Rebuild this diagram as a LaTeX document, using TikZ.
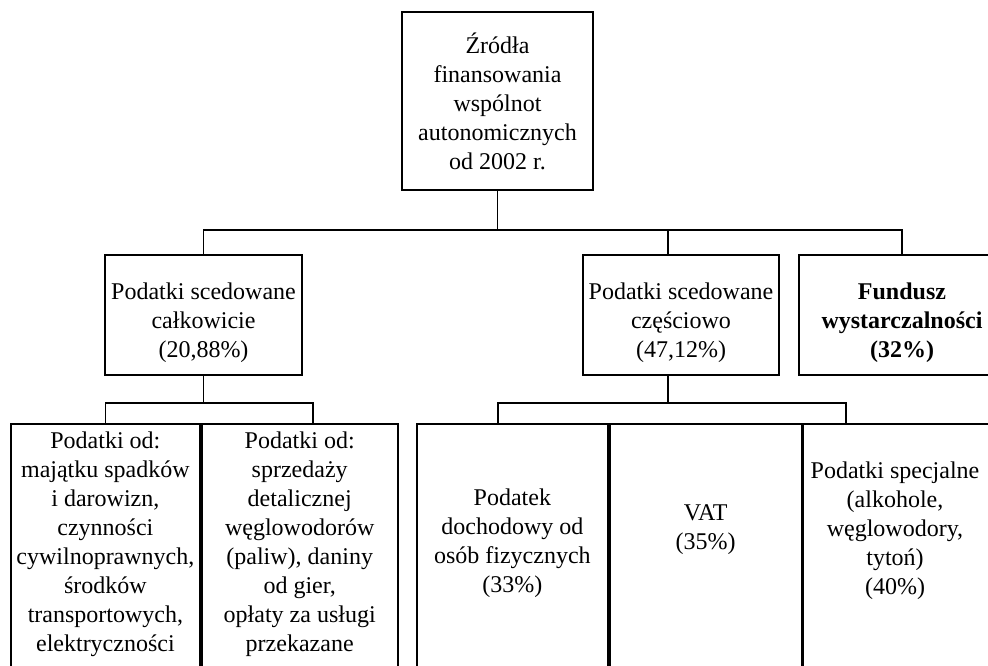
\documentclass[tikz,border=0pt]{standalone}
\usepackage{fontspec}
\setmainfont{Liberation Serif}
\usetikzlibrary{positioning}
\newcommand\topgap{\rule{0pt}{33pt}}
\tikzset{
  box/.style={draw, line width=1.8pt, align=center, inner sep=0pt, minimum height=120pt},
  cell/.style={draw, line width=1.8pt, anchor=north west, minimum height=290pt, inner sep=0pt},
  txt/.style={align=center, inner sep=0pt, anchor=north},
  link/.style={line width=1.8pt},
}
\begin{document}
\begin{tikzpicture}[x=1pt,y=1pt,font=\fontsize{24}{29}\selectfont]
    \useasboundingbox (0,0) rectangle (988,666);
    \clip (0,0) rectangle (988,666);

    % Top box
    \node[box, minimum width=191pt, minimum height=178pt] (src) at (497.5,565)
        {Źródła\\finansowania\\wspólnot\\autonomicznych\\od 2002 r.};

    % Second level
    \node[box, minimum width=197pt] (calk) at (203.5,351)
        {\topgap Podatki scedowane\\całkowicie\\(20,88\%)};
    \node[box, minimum width=196pt] (czesc) at (681,351)
        {\topgap Podatki scedowane\\częściowo\\(47,12\%)};
    \node[box, minimum width=206pt, font=\fontsize{24}{29}\selectfont\bfseries] (fund) at (902,351)
        {\topgap Fundusz\\wystarczalności\\(32\%)};

    % Bottom cells
    \node[cell, minimum width=189pt] (spadki) at (10,243) {};
    \node[cell, minimum width=196pt] (paliwa) at (spadki.north east) {};
    \node[cell, minimum width=191pt] (pit) at (416,243) {};
    \node[cell, minimum width=192pt] (vat) at (pit.north east) {};
    \node[cell, minimum width=201pt] (akcyza) at (vat.north east) {};

    % Texts of the bottom cells
    \node[txt, below=9pt of spadki.north] (spadkitxt)
        {Podatki od:\\majątku spadków\\i darowizn,\\czynności\\cywilnoprawnych,\\środków\\transportowych,\\elektryczności};
    \node[txt, below=9pt of paliwa.north] (paliwatxt)
        {Podatki od:\\sprzedaży\\detalicznej\\węglowodorów\\(paliw), daniny\\od gier,\\opłaty za usługi\\przekazane};
    \node[txt, below=66pt of pit.north] (pittxt)
        {Podatek\\dochodowy od\\osób fizycznych\\(33\%)};
    \node[txt, below=81pt of vat.north] (vattxt)
        {VAT\\(35\%)};
    \node[txt, below=39pt of akcyza.north, xshift=-9pt] (akcyzatxt)
        {Podatki specjalne\\(alkohole,\\węglowodory,\\tytoń)\\(40\%)};

    % Upper connectors
    \coordinate (bus) at (0,436);
    \draw[link] (src.south) -- (src.south |- bus);
    \draw[link] (calk.north) |- (fund.north |- bus) -- (fund.north);
    \draw[link] ([xshift=-13pt]czesc.north) -- ([xshift=-13pt]czesc.north |- bus);

    % Lower connectors
    \coordinate (rail) at (0,263);
    \draw[link] (calk.south) -- (calk.south |- rail);
    \draw[link] (spadki.north) |- ([xshift=13pt]paliwa.north |- rail) -- ([xshift=13pt]paliwa.north);
    \draw[link] ([xshift=-13pt]czesc.south) -- ([xshift=-13pt]czesc.south |- rail);
    \draw[link] ([xshift=-14.5pt]pit.north) |- ([xshift=43pt]akcyza.north west |- rail) -- ([xshift=43pt]akcyza.north west);
\end{tikzpicture}
\end{document}
